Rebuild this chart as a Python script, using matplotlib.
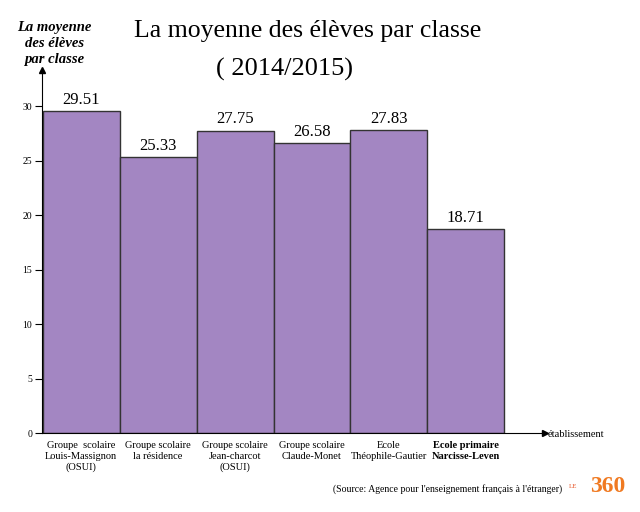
import matplotlib
matplotlib.use("Agg")
import matplotlib.pyplot as plt

categories = ["Groupe  scolaire\nLouis-Massignon\n(OSUI)", "Groupe scolaire\nla résidence",
              "Groupe scolaire\nJean-charcot\n(OSUI)", "Groupe scolaire\nClaude-Monet",
              "Ecole\nThéophile-Gautier", "Ecole primaire\nNarcisse-Leven"]
values = [29.51, 25.33, 27.75, 26.58, 27.83, 18.71]
yticks = [0, 5, 10, 15, 20, 25, 30]

plt.rcParams["font.family"] = "Liberation Serif"
fig = plt.figure(figsize=(6.4, 5.12), dpi=100)
ax = fig.add_axes([0.0656, 0.154, 0.786, 0.709])
x = list(range(len(values)))
ax.bar(x, values, width=1.0, color="#a386c2", edgecolor="#333333", linewidth=1)
for xi, v in zip(x, values):
    ax.text(xi, v + 0.3, f"{v:.2f}", ha="center", va="bottom", fontsize=12)
ax.set_xlim(-0.51, 6.03)
ax.set_ylim(0, 33.3)
ax.set_yticks(yticks)
ax.set_yticklabels([str(t) for t in yticks], fontsize=7)
ax.set_xticks(x)
ax.set_xticklabels(categories, fontsize=7.5)
for i, lab in enumerate(ax.get_xticklabels()):
    if i == 5:
        lab.set_fontweight("bold")
ax.tick_params(axis="x", length=0, pad=6)
ax.tick_params(axis="y", length=5, direction="out", pad=2)
for s in ["top", "right"]:
    ax.spines[s].set_visible(False)
ax.plot(1, 0, ">k", transform=ax.transAxes, clip_on=False, markersize=5)
ax.plot(0, 1, "^k", transform=ax.transAxes, clip_on=False, markersize=5)
fig.text(0.48, 0.94, "La moyenne des élèves par classe", ha="center", va="center", fontsize=18.5)
fig.text(0.445, 0.865, "( 2014/2015)", ha="center", va="center", fontsize=19)
fig.text(0.085, 0.915, "La moyenne\ndes élèves\npar classe", ha="center", va="center",
         fontsize=10.5, fontstyle="italic", fontweight="bold", linespacing=1.3)
fig.text(0.855, 0.152, "établissement", ha="left", va="center", fontsize=7.5)
fig.text(0.52, 0.045, "(Source: Agence pour l'enseignement français à l'étranger)", ha="left",
         va="center", fontsize=7)
fig.text(0.895, 0.05, "LE", fontsize=5, color="#e8572a", ha="center", va="center")
fig.text(0.95, 0.05, "360", fontsize=17, color="#f07a22", fontweight="bold", ha="center", va="center")
fig.savefig("out.png", dpi=100)
